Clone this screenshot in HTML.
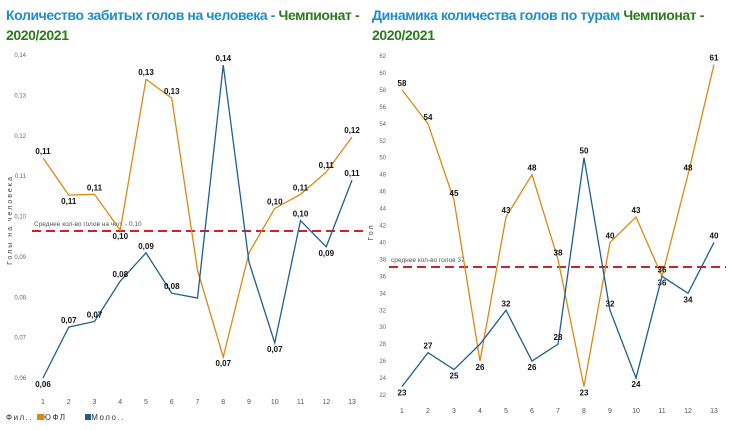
<!DOCTYPE html>
<html><head><meta charset="utf-8">
<style>
body{margin:0;background:#fff;width:730px;height:430px;overflow:hidden;font-family:"Liberation Sans",sans-serif}
.t{position:absolute;font-size:14px;font-weight:bold;line-height:20px;letter-spacing:-0.4px;white-space:nowrap}
.b{color:#1f8dc8}.g{color:#2c7a1e}
</style></head><body>
<div class="t" style="left:6px;top:5px"><span class="b">Количество забитых голов на человека - </span><span class="g">Чемпионат -<br>2020/2021</span></div>
<div class="t" style="left:372px;top:5px"><span class="b">Динамика количества голов по турам </span><span class="g">Чемпионат -<br>2020/2021</span></div>
<svg id="s" width="730" height="430" style="position:absolute;left:0;top:0"></svg>
<script>
const rounds=[1,2,3,4,5,6,7,8,9,10,11,12,13];
const leftTicks=[0.06,0.07,0.08,0.09,0.10,0.11,0.12,0.13,0.14];
const leftOrange=[0.1145,0.1053,0.1055,0.0966,0.134,0.1293,0.0867,0.0652,0.091,0.102,0.1055,0.111,0.1197];
const leftBlue=[0.060,0.0726,0.074,0.084,0.091,0.081,0.0798,0.1375,0.0887,0.0687,0.099,0.0925,0.109];
const leftMean=0.0964;
const rightTicks=[22,24,26,28,30,32,34,36,38,40,42,44,46,48,50,52,54,56,58,60,62];
const rightOrange=[58,54,45,26,43,48,38,23,40,43,36,48,61];
const rightBlue=[23,27,25,28,32,26,28,50,32,24,36,34,40];
const rightMean=37.1;

const NS="http://www.w3.org/2000/svg",svg=document.getElementById('s');
function mk(t,a,txt){const e=document.createElementNS(NS,t);for(const k in a)e.setAttribute(k,a[k]);if(txt!=null)e.textContent=txt;svg.appendChild(e);return e;}
function chart(o){
  const x=i=>o.x0+(i-1)*(o.x1-o.x0)/12;
  const y=v=>o.yA+(v-o.vA)*(o.yB-o.yA)/(o.vB-o.vA);
  o.ticks.forEach(t=>{const e=mk('text',{x:o.tickX,y:y(t)+2,'font-size':6,fill:'#666','text-anchor':'end'},o.fmt(t));
    });
  rounds.forEach(r=>{const e=mk('text',{x:x(r),y:o.xlY,'font-size':7,fill:'#555','text-anchor':'middle'},r);
    });
  const yt=mk('text',{x:0,y:0,'font-size':7,fill:'#444','text-anchor':'middle','letter-spacing':'2',transform:`translate(${o.ytX},${o.ytY}) rotate(-90)`},o.ytitle);
  
  const ml=mk('line',{x1:o.mx0,x2:o.x1+12,y1:y(o.mean),y2:y(o.mean),stroke:'#d0202e','stroke-width':2,'stroke-dasharray':'9,5'});
  
  const mt=mk('text',{x:o.mx0+2,y:y(o.mean)-5,'font-size':6.5,fill:'#555'},o.meanLabel);
  
  [[o.orange,'#d98a12','orange',o.hideO],[o.blue,'#1f5f8f','blue',o.hideB]].forEach(([d,c,n,hide])=>{
    const p=mk('polyline',{points:d.map((v,i)=>x(i+1)+','+y(v)).join(' '),fill:'none',stroke:c,'stroke-width':1.3});
    
    d.forEach((v,i)=>{
      if(hide.includes(i+1))return;
      const prev=i>0?d[i-1]:v,next=i<12?d[i+1]:v;
      const below=(v<prev&&v<=next)||(i==0&&v<next);
      const t=mk('text',{x:x(i+1),y:y(v)+(below?9:-4),'font-size':8,'font-weight':'bold',fill:'#111','text-anchor':'middle'},o.fmt(v));
      
    });
  });
}
const f2=v=>v.toFixed(2).replace('.',',');
chart({x0:43,x1:352,yA:378,vA:0.06,yB:55,vB:0.14,ticks:leftTicks,fmt:f2,tickX:26,xlY:404,ytX:12,ytY:220,ytitle:'Голы на человека',
  orange:leftOrange,blue:leftBlue,mean:leftMean,mx0:32,meanLabel:'Среднее кол-во голов на чел. - 0,10',hideO:[7,9],hideB:[7,9]});
chart({x0:402,x1:714,yA:395,vA:22,yB:56,vB:62,ticks:rightTicks,fmt:v=>String(Math.round(v)),tickX:386,xlY:413,ytX:373,ytY:232,ytitle:'Гол',
  orange:rightOrange,blue:rightBlue,mean:rightMean,mx0:389,meanLabel:'среднее кол-во голов 37',hideO:[],hideB:[4]});
</script>
<div style="position:absolute;left:6px;top:413px;font-size:8px;color:#333;letter-spacing:1.5px">
<span>Фил..</span>
<span><span style="display:inline-block;width:6px;height:6px;background:#d98a12"></span>ЮФЛ</span>
&nbsp;&nbsp;&nbsp;
<span><span style="display:inline-block;width:6px;height:6px;background:#1f5f8f"></span>Моло..</span>
</div>
</body></html>
